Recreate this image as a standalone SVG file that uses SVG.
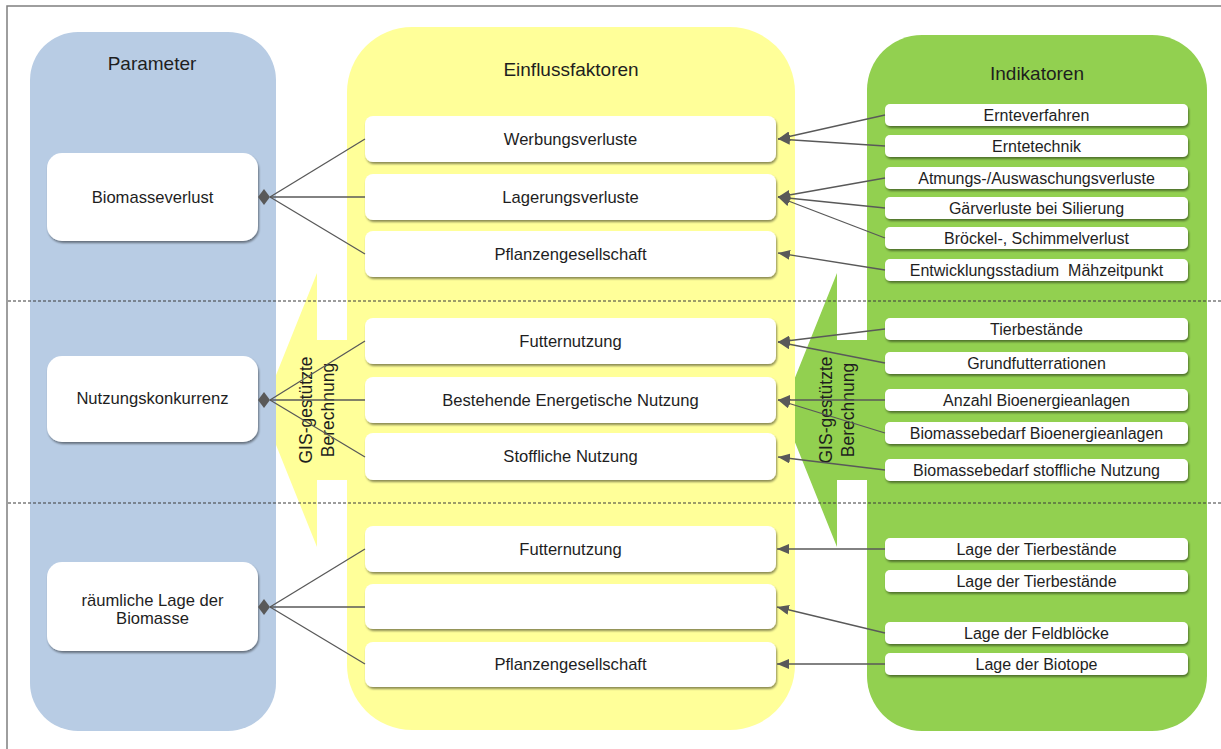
<svg xmlns="http://www.w3.org/2000/svg" width="1221" height="749" viewBox="0 0 1221 749">
  <style>
    text { font-family: "Liberation Sans", Arial, sans-serif; fill: #1e1e1e; text-anchor: middle; }
    .hdr { font-size: 19px; }
    .lbl { font-size: 16.6px; }
    .ind { font-size: 16px; }
    .gis { font-size: 17.5px; }
    .box { fill: #ffffff; filter: url(#shadow); }
    .link { stroke: #595959; stroke-width: 1.3; fill: none; }
    .arr { marker-end: url(#tri); }
    .sep { stroke: #3a3a3a; stroke-width: 1.2; stroke-dasharray: 3 2; }
    .dia { fill: #595959; }
  </style>
  <defs>
    <filter id="shadow" x="-5%" y="-20%" width="110%" height="150%">
      <feDropShadow dx="1" dy="2" stdDeviation="1.3" flood-color="#000" flood-opacity="0.45"/>
    </filter>
    <marker id="tri" markerUnits="userSpaceOnUse" markerWidth="12" markerHeight="10" refX="12" refY="5" orient="auto">
      <path d="M0,0 L12,5 L0,10 z" fill="#595959"/>
    </marker>
  </defs>

  <!-- outer frame -->
  <rect x="7" y="6" width="1240" height="770" fill="#fff" stroke="#7f7f7f" stroke-width="1.5"/>

  <!-- calculation arrows (behind the columns) -->
  <polygon points="317,273 317,340 352,340 352,480 317,480 317,547 262,410" fill="#ffff99"/>
  <polygon points="837,273 837,340 872,340 872,480 837,480 837,547 782,410" fill="#92d050"/>

  <!-- columns -->
  <g id="col-parameter">
    <rect x="30" y="32" width="246" height="699" rx="48" fill="#b8cce4"/>
    <text class="hdr" x="152" y="70">Parameter</text>
  </g>
  <g id="col-einfluss">
    <rect x="347" y="27" width="448" height="703" rx="65" fill="#ffff99"/>
    <text class="hdr" x="571" y="76">Einflussfaktoren</text>
  </g>
  <g id="col-indikatoren">
    <rect x="867" y="35" width="340" height="696" rx="55" fill="#92d050"/>
    <text class="hdr" x="1037" y="80">Indikatoren</text>
  </g>

  <!-- GIS labels -->
  <g id="gis-left">
    <text class="gis" transform="translate(312,410) rotate(-90)">GIS-gestützte</text>
    <text class="gis" transform="translate(334,410) rotate(-90)">Berechnung</text>
  </g>
  <g id="gis-right">
    <text class="gis" transform="translate(832,410) rotate(-90)">GIS-gestützte</text>
    <text class="gis" transform="translate(854,410) rotate(-90)">Berechnung</text>
  </g>

  <!-- section separators -->
  <line class="sep" x1="8" y1="301" x2="1221" y2="301"/>
  <line class="sep" x1="8" y1="503" x2="1221" y2="503"/>

  <!-- parameter nodes -->
  <g id="p-biomasseverlust">
    <rect class="box" x="47" y="153" width="211" height="88" rx="15"/>
    <text class="lbl" x="152.5" y="203">Biomasseverlust</text>
  </g>
  <g id="p-nutzungskonkurrenz">
    <rect class="box" x="47" y="356" width="211" height="86" rx="15"/>
    <text class="lbl" x="152.5" y="404">Nutzungskonkurrenz</text>
  </g>
  <g id="p-raeumliche-lage">
    <rect class="box" x="47" y="562" width="211" height="89" rx="15"/>
    <text class="lbl" x="152.5" y="606">räumliche Lage der</text>
    <text class="lbl" x="152.5" y="624">Biomasse</text>
  </g>

  <!-- influence factor nodes -->
  <g id="e-werbungsverluste">
    <rect class="box" x="365" y="116" width="411" height="46" rx="8"/>
    <text class="lbl" x="570.5" y="145">Werbungsverluste</text>
  </g>
  <g id="e-lagerungsverluste">
    <rect class="box" x="365" y="174" width="411" height="46" rx="8"/>
    <text class="lbl" x="570.5" y="203">Lagerungsverluste</text>
  </g>
  <g id="e-pflanzengesellschaft-1">
    <rect class="box" x="365" y="231" width="411" height="46" rx="8"/>
    <text class="lbl" x="570.5" y="260">Pflanzengesellschaft</text>
  </g>
  <g id="e-futternutzung-1">
    <rect class="box" x="365" y="318" width="411" height="46" rx="8"/>
    <text class="lbl" x="570.5" y="347">Futternutzung</text>
  </g>
  <g id="e-energetische-nutzung">
    <rect class="box" x="365" y="377" width="411" height="46" rx="8"/>
    <text class="lbl" x="570.5" y="406">Bestehende Energetische Nutzung</text>
  </g>
  <g id="e-stoffliche-nutzung">
    <rect class="box" x="365" y="433" width="411" height="47" rx="8"/>
    <text class="lbl" x="570.5" y="462">Stoffliche Nutzung</text>
  </g>
  <g id="e-futternutzung-2">
    <rect class="box" x="365" y="526" width="411" height="46" rx="8"/>
    <text class="lbl" x="570.5" y="555">Futternutzung</text>
  </g>
  <g id="e-leer">
    <rect class="box" x="365" y="584" width="411" height="45" rx="8"/>
  </g>
  <g id="e-pflanzengesellschaft-2">
    <rect class="box" x="365" y="642" width="411" height="45" rx="8"/>
    <text class="lbl" x="570.5" y="670">Pflanzengesellschaft</text>
  </g>

  <!-- indicator nodes -->
  <g id="i-ernteverfahren"><rect class="box" x="885" y="104" width="303" height="22" rx="5"/><text class="ind" x="1036.5" y="120.5">Ernteverfahren</text></g>
  <g id="i-erntetechnik"><rect class="box" x="885" y="135" width="303" height="22" rx="5"/><text class="ind" x="1036.5" y="151.5">Erntetechnik</text></g>
  <g id="i-atmung"><rect class="box" x="885" y="167" width="303" height="22" rx="5"/><text class="ind" x="1036.5" y="183.5">Atmungs-/Auswaschungsverluste</text></g>
  <g id="i-gaerverluste"><rect class="box" x="885" y="197" width="303" height="22" rx="5"/><text class="ind" x="1036.5" y="213.5">Gärverluste bei Silierung</text></g>
  <g id="i-broeckel"><rect class="box" x="885" y="227" width="303" height="22" rx="5"/><text class="ind" x="1036.5" y="243.5">Bröckel-, Schimmelverlust</text></g>
  <g id="i-entwicklung"><rect class="box" x="885" y="259" width="303" height="22" rx="5"/><text class="ind" x="1036.5" y="275.5">Entwicklungsstadium &#160;Mähzeitpunkt</text></g>
  <g id="i-tierbestaende"><rect class="box" x="885" y="318" width="303" height="22" rx="5"/><text class="ind" x="1036.5" y="334.5">Tierbestände</text></g>
  <g id="i-grundfutter"><rect class="box" x="885" y="352" width="303" height="22" rx="5"/><text class="ind" x="1036.5" y="368.5">Grundfutterrationen</text></g>
  <g id="i-anzahl-anlagen"><rect class="box" x="885" y="389" width="303" height="22" rx="5"/><text class="ind" x="1036.5" y="405.5">Anzahl Bioenergieanlagen</text></g>
  <g id="i-bedarf-anlagen"><rect class="box" x="885" y="422" width="303" height="22" rx="5"/><text class="ind" x="1036.5" y="438.5">Biomassebedarf Bioenergieanlagen</text></g>
  <g id="i-bedarf-stofflich"><rect class="box" x="885" y="459" width="303" height="22" rx="5"/><text class="ind" x="1036.5" y="475.5">Biomassebedarf stoffliche Nutzung</text></g>
  <g id="i-lage-tier-1"><rect class="box" x="885" y="538" width="303" height="22" rx="5"/><text class="ind" x="1036.5" y="554.5">Lage der Tierbestände</text></g>
  <g id="i-lage-tier-2"><rect class="box" x="885" y="570" width="303" height="22" rx="5"/><text class="ind" x="1036.5" y="586.5">Lage der Tierbestände</text></g>
  <g id="i-lage-feldbloecke"><rect class="box" x="885" y="622" width="303" height="22" rx="5"/><text class="ind" x="1036.5" y="638.5">Lage der Feldblöcke</text></g>
  <g id="i-lage-biotope"><rect class="box" x="885" y="653" width="303" height="22" rx="5"/><text class="ind" x="1036.5" y="669.5">Lage der Biotope</text></g>

  <!-- connectors -->
  <g id="connectors">
    <!-- influence factors to parameters (diamond ends) -->
    <line class="link" x1="365" y1="139" x2="270" y2="197"/>
    <line class="link" x1="365" y1="197" x2="270" y2="197"/>
    <line class="link" x1="365" y1="254" x2="270" y2="197"/>
    <polygon class="dia" points="258,197 264,189 270,197 264,205"/>

    <line class="link" x1="365" y1="341" x2="270" y2="400"/>
    <line class="link" x1="365" y1="400" x2="270" y2="400"/>
    <line class="link" x1="365" y1="457" x2="270" y2="400"/>
    <polygon class="dia" points="258,400 264,392 270,400 264,408"/>

    <line class="link" x1="365" y1="549" x2="270" y2="607"/>
    <line class="link" x1="365" y1="607" x2="270" y2="607"/>
    <line class="link" x1="365" y1="664" x2="270" y2="607"/>
    <polygon class="dia" points="258,607 264,599 270,607 264,615"/>

    <!-- indicators to influence factors -->
    <line class="link arr" x1="885" y1="115" x2="778" y2="139"/>
    <line class="link arr" x1="885" y1="146" x2="778" y2="139"/>
    <line class="link arr" x1="885" y1="178" x2="778" y2="197"/>
    <line class="link arr" x1="885" y1="208" x2="778" y2="197"/>
    <line class="link arr" x1="885" y1="238" x2="778" y2="197"/>
    <line class="link arr" x1="885" y1="270" x2="778" y2="253"/>
    <line class="link arr" x1="885" y1="329" x2="778" y2="342"/>
    <line class="link arr" x1="885" y1="363" x2="778" y2="342"/>
    <line class="link arr" x1="885" y1="400" x2="778" y2="400"/>
    <line class="link arr" x1="885" y1="433" x2="778" y2="400"/>
    <line class="link arr" x1="885" y1="470" x2="778" y2="457"/>
    <line class="link arr" x1="885" y1="549" x2="777" y2="549"/>
    <line class="link arr" x1="885" y1="633" x2="777" y2="607"/>
    <line class="link arr" x1="885" y1="664" x2="777" y2="664"/>
  </g>
</svg>
